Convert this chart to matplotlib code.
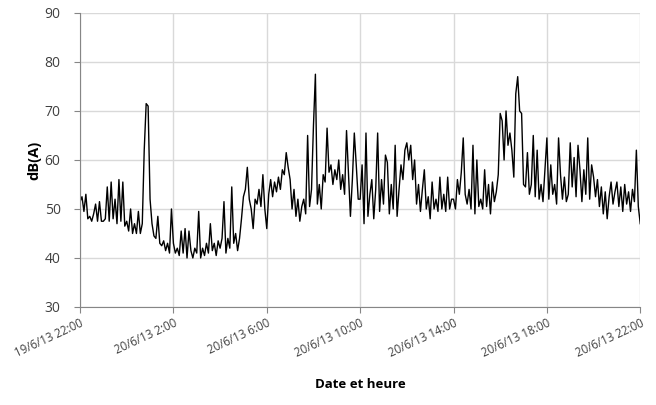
import numpy as np
import matplotlib.pyplot as plt

# noise level dB(A), one reading every 5 minutes from 19/6/13 22:00 to 20/6/13 22:00
levels = [
    # 22:00
    51.5, 52.5, 49.5, 53, 48, 48.5, 47.5, 49, 51, 47.5, 51.5, 47.5,
    # 23:00
    47.5, 48, 54.5, 47.5, 55.5, 48, 52, 47, 56, 47.5, 55.5, 46.5,
    # 0:00
    47.5, 45.5, 50, 45, 47, 45, 49.5, 45, 47, 62, 71.5, 71,
    # 1:00
    52, 47, 44.5, 44, 48.5, 43, 42.5, 43.5, 41.5, 43, 41, 50,
    # 2:00
    43, 41, 42, 40.5, 45.5, 41, 46, 40, 45.5, 41.5, 40, 42,
    # 3:00
    41, 49.5, 40, 42, 40.5, 43, 41, 47, 41.5, 43, 40.5, 43.5,
    # 4:00
    42, 44, 51.5, 41, 44, 42, 54.5, 43, 45, 41.5, 44, 48,
    # 5:00
    52.5, 54, 58.5, 52, 50, 46, 52, 51, 54, 50.5, 57, 50,
    # 6:00
    46, 53, 56, 52.5, 55.5, 53.5, 56.5, 54, 58, 57, 61.5, 58.5,
    # 7:00
    56, 50, 54, 48.5, 52, 47.5, 50.5, 52, 49, 65, 50.5, 54,
    # 8:00
    67, 77.5, 51, 55, 50, 57, 55.5, 66.5, 57.5, 59, 55, 58,
    # 9:00
    56, 60, 54, 57, 53, 66, 57, 48.5, 56, 65.5, 59, 52,
    # 10:00
    52, 59, 47, 65.5, 48.5, 53, 56, 48, 54, 65.5, 49.5, 56,
    # 11:00
    51, 61, 59.5, 49, 55, 50, 63, 48.5, 54, 59, 56, 62,
    # 12:00
    63.5, 60, 63, 56, 60, 51, 55, 49.5, 54, 58, 50, 52.5,
    # 13:00
    48, 55.5, 50, 52, 49.5, 56.5, 50, 53, 49.5, 56.5, 50, 52,
    # 14:00
    52, 50, 56, 53, 57.5, 64.5, 53, 51, 54, 50, 63, 49,
    # 15:00
    60, 50.5, 52, 50, 58, 50.5, 55, 49, 55.5, 51.5, 53.5, 57,
    # 16:00
    69.5, 68, 60, 70, 63, 65.5, 62, 56.5, 73.5, 77, 70, 69.5,
    # 17:00
    55, 54.5, 61.5, 53, 55, 65, 52.5, 62, 52, 55, 51.5, 58,
    # 18:00
    64.5, 52, 59, 53, 55, 51, 64.5, 57, 52, 56.5, 51.5, 53,
    # 19:00
    63.5, 54.5, 60.5, 52.5, 63, 58, 51.5, 58, 53, 64.5, 52, 59,
    # 20:00
    56.5, 52.5, 56, 50.5, 54.5, 49, 53.5, 48, 52.5, 55.5, 51, 53.5,
    # 21:00
    55.5, 50.5, 54.5, 49.5, 55, 51, 53.5, 49.5, 54, 51.5, 62, 50.5,
    # 22:00
    47,
]
hours = np.arange(len(levels)) * 5 / 60

tick_hours = [0, 4, 8, 12, 16, 20, 24]
tick_labels = ['19/6/13 22:00', '20/6/13 2:00', '20/6/13 6:00', '20/6/13 10:00',
               '20/6/13 14:00', '20/6/13 18:00', '20/6/13 22:00']

plt.rcParams['font.family'] = ['Open Sans', 'DejaVu Sans']

fig = plt.figure(figsize=(6.56, 4.05), dpi=100)
ax = fig.add_axes([0.122, 0.242, 0.854, 0.726])

ax.plot(hours, levels, color='black', lw=1.0)

ax.set_xlim(0, 24)
ax.set_ylim(30, 90)
ax.set_yticks(range(30, 91, 10))
ax.set_xticks(tick_hours)
ax.set_xticklabels(tick_labels, rotation=25, ha='right', rotation_mode='anchor',
                   fontsize=8.3, color='#404040')
ax.tick_params(axis='y', labelsize=10, labelcolor='#404040', length=4,
               color='#868686', width=0.8, pad=10)
ax.tick_params(axis='x', length=4, color='#868686', width=0.8, pad=3)

ax.grid(True, color='#d9d9d9', lw=1)
ax.set_axisbelow(True)
for s in ['top', 'right']:
    ax.spines[s].set_visible(False)
for s in ['left', 'bottom']:
    ax.spines[s].set_color('#868686')
    ax.spines[s].set_linewidth(0.8)

ax.set_ylabel('dB(A)', fontsize=10.5, fontweight='bold', color='black', labelpad=2)
ax.set_xlabel('Date et heure', fontsize=9.5, fontweight='bold', color='black', labelpad=13)

fig.savefig('out.png', dpi=100)
